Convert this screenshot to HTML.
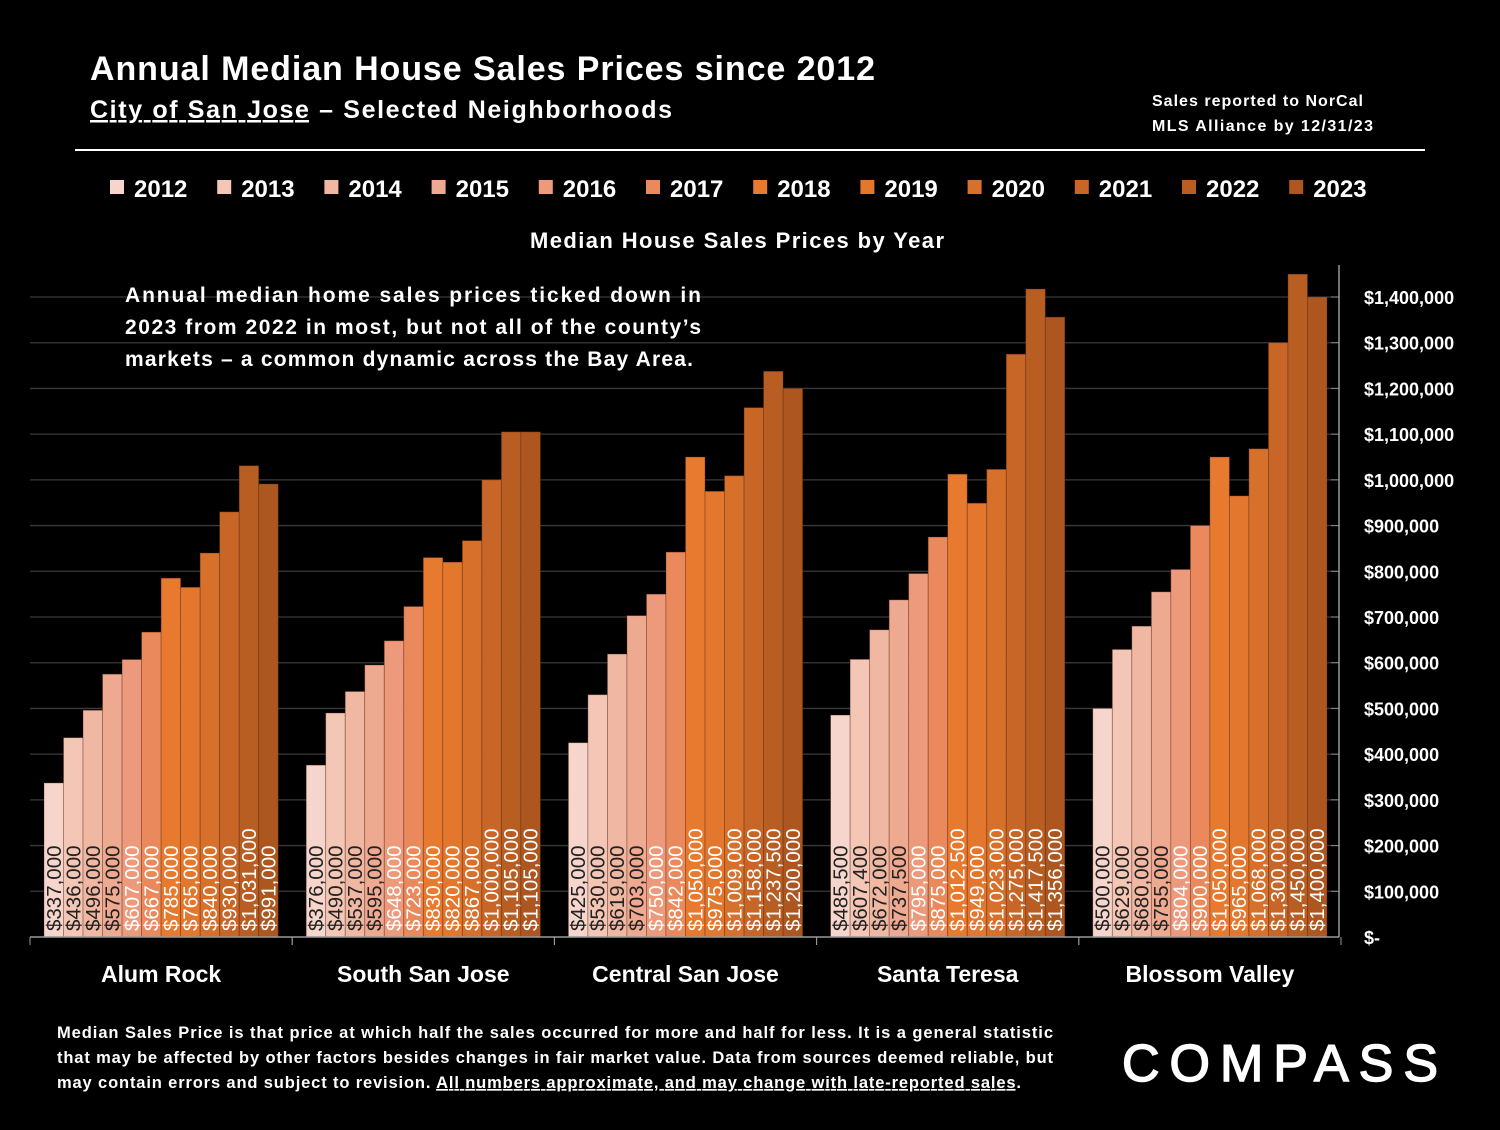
<!DOCTYPE html>
<html><head><meta charset="utf-8"><style>
body{margin:0;background:#000;width:1500px;height:1125px;overflow:hidden;font-family:"Liberation Sans",sans-serif;color:#fff}
svg text{font-family:"Liberation Sans",sans-serif}
</style></head><body>
<svg id="c" width="1500" height="1125">
<rect width="1500" height="1125" fill="#000"/>
<text x="90" y="80" font-size="34" font-weight="bold" fill="#fff" textLength="785">Annual Median House Sales Prices since 2012</text>
<text x="90" y="118" font-size="25" font-weight="bold" fill="#fff" textLength="582"><tspan text-decoration="underline">City of San Jose</tspan> – Selected Neighborhoods</text>
<text x="1152" y="106" font-size="16" font-weight="bold" fill="#fff" textLength="211">Sales reported to NorCal</text>
<text x="1152" y="131" font-size="16" font-weight="bold" fill="#fff" textLength="221">MLS Alliance by 12/31/23</text>
<line x1="75" y1="150" x2="1425" y2="150" stroke="#fff" stroke-width="2"/>
<g id="legend"></g>
<text x="737" y="248" font-size="22" font-weight="bold" fill="#fff" text-anchor="middle" textLength="414">Median House Sales Prices by Year</text>
<g id="grid"></g><g id="bars"></g><g id="axis"></g>
<text font-size="21" font-weight="bold" fill="#fff">
<tspan x="125" y="302" textLength="576">Annual median home sales prices ticked down in</tspan>
<tspan x="125" y="334" textLength="576">2023 from 2022 in most, but not all of the county’s</tspan>
<tspan x="125" y="366" textLength="568">markets – a common dynamic across the Bay Area.</tspan></text>
<text font-size="16.5" font-weight="bold" fill="#fff">
<tspan x="57" y="1038" textLength="996">Median Sales Price is that price at which half the sales occurred for more and half for less. It is a general statistic</tspan>
<tspan x="57" y="1063" textLength="996">that may be affected by other factors besides changes in fair market value. Data from sources deemed reliable, but</tspan>
<tspan x="57" y="1088" textLength="964">may contain errors and subject to revision.  <tspan text-decoration="underline">All numbers approximate, and may change with late-reported sales</tspan>.</tspan></text>
<g>
<text x="1122" y="1081" font-size="52" fill="#fff" stroke="#fff" stroke-width="1.5" textLength="316">COMPASS</text>
</g>
</svg>
<script>
const years=["2012","2013","2014","2015","2016","2017","2018","2019","2020","2021","2022","2023"];
const neighborhoods=["Alum Rock","South San Jose","Central San Jose","Santa Teresa","Blossom Valley"];
const alumRock=[337000,436000,496000,575000,607000,667000,785000,765000,840000,930000,1031000,991000];
const southSanJose=[376000,490000,537000,595000,648000,723000,830000,820000,867000,1000000,1105000,1105000];
const centralSanJose=[425000,530000,619000,703000,750000,842000,1050000,975000,1009000,1158000,1237500,1200000];
const santaTeresa=[485500,607400,672000,737500,795000,875000,1012500,949000,1023000,1275000,1417500,1356000];
const blossomValley=[500000,629000,680000,755000,804000,900000,1050000,965000,1068000,1300000,1450000,1400000];
const series=[alumRock,southSanJose,centralSanJose,santaTeresa,blossomValley];
const yTicks=[0,100000,200000,300000,400000,500000,600000,700000,800000,900000,1000000,1100000,1200000,1300000,1400000];
const colors=["#f6d6cc","#f3c6b6","#f0b8a3","#eea991","#ec9a7b","#ea8a5c","#e77a2e","#e3772e","#d6702b","#c76627","#b95e23","#ad5620"];
const NS="http://www.w3.org/2000/svg";
const y0=937,y1=297,x0=30,gw=262.2,pad=14,bw=(gw-2*pad)/12;
const Y=v=>y0-(v/1400000)*(y0-y1);
const X=(g,i)=>x0+g*gw+pad+i*bw;
function mk(t,a,p){const e=document.createElementNS(NS,t);for(const k in a)e.setAttribute(k,a[k]);p.appendChild(e);return e;}
const fmt=v=>"$"+v.toLocaleString("en-US");
const grid=document.getElementById("grid"),bars=document.getElementById("bars"),axis=document.getElementById("axis"),legend=document.getElementById("legend");
yTicks.forEach(v=>{
 if(v>0){const l=mk("line",{x1:x0,x2:1339,y1:Y(v),y2:Y(v),stroke:"#3a3a3a","stroke-width":1.3},grid);
 
 }
 const tk=mk("line",{x1:1331,x2:1339,y1:Y(v),y2:Y(v),stroke:"#888"},axis);
 
 
 const t=mk("text",{x:1364,y:Y(v)+7,"font-size":18,"font-weight":"bold",fill:"#fff"},axis);
 t.textContent=v===0?"$-":fmt(v);
 
 
});
const ax=mk("line",{x1:1339,x2:1339,y1:265,y2:y0,stroke:"#999","stroke-width":1.5},axis);


const bx=mk("line",{x1:x0,x2:1339,y1:y0,y2:y0,stroke:"#999","stroke-width":1.5},axis);


neighborhoods.forEach((n,g)=>{
 for(let k=0;k<=1;k++){const s=mk("line",{x1:x0+(g+k)*gw,x2:x0+(g+k)*gw,y1:y0,y2:y0+8,stroke:"#999"},axis);
 
 }
 const lab=mk("text",{x:x0+g*gw+gw/2,y:982,"font-size":23,"font-weight":"bold",fill:"#fff","text-anchor":"middle"},axis);
 lab.textContent=n;
 
 
 series[g].forEach((v,i)=>{
  const r=mk("rect",{x:X(g,i),y:Y(v),width:bw,height:y0-Y(v),fill:colors[i],stroke:"rgba(90,40,20,0.45)","stroke-width":0.8},bars);
  
  
  const cx=X(g,i)+bw/2+7,cy=931;
  const t=mk("text",{x:cx,y:cy,"font-size":20.5,fill:i<4?"#222":"#fff",transform:`rotate(-90 ${cx} ${cy})`},bars);
  t.textContent=fmt(v);
  
  
 });
});
years.forEach((yr,i)=>{
 const lx=110+i*107.2;
 const s=mk("rect",{x:lx,y:180,width:14,height:14,fill:colors[i]},legend);
 
 
 const t=mk("text",{x:lx+24,y:197,"font-size":24,"font-weight":"bold",fill:"#fff"},legend);
 t.textContent=yr;
 
 
});
</script>
</body></html>
